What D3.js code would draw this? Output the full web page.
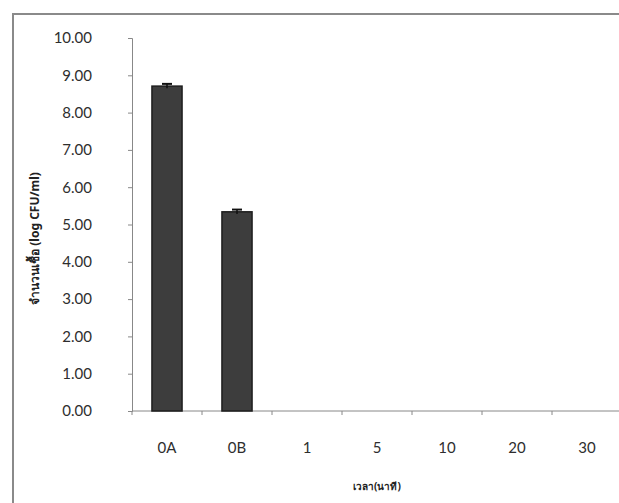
<!DOCTYPE html>
<html>
<head>
<meta charset="utf-8">
<script src="https://cdn.jsdelivr.net/npm/d3@7"></script>
<style>
  html, body { margin: 0; padding: 0; background: #fff; }
  svg { display: block; }
</style>
</head>
<body>
<svg id="chart" width="619" height="503"></svg>
<script>
// Sampling times (minutes) and mean counts with their error
const categories = ["0A", "0B", "1", "5", "10", "20", "30"];
const meanLogCfu = [8.71, 5.34, 0, 0, 0, 0, 0];
const errLogCfu = [0.06, 0.06, 0, 0, 0, 0, 0];
const yTicks = [0, 1, 2, 3, 4, 5, 6, 7, 8, 9, 10];

const yTitle = "จำนวนเชื้อ (log CFU/ml)";
const xTitle = "เวลา(นาที)";

const svg = d3.select("#chart");
const W = 619, H = 503;

// outer chart frame
svg.append("rect")
  .attr("x", 13).attr("y", 14)
  .attr("width", W + 20).attr("height", H + 20)
  .attr("fill", "#fff")
  .attr("stroke", "#8a8a8a").attr("stroke-width", 2);

const plot = { left: 132, right: 622, top: 38, bottom: 411 };

const x = d3.scaleBand()
  .domain(categories)
  .range([plot.left, plot.right])
  .paddingInner(0.57).paddingOuter(0.285);

const y = d3.scaleLinear().domain([0, 10]).range([plot.bottom, plot.top]);

const font = "Lato, 'Open Sans', sans-serif";

// y axis
const yAxis = svg.append("g")
  .attr("transform", `translate(${plot.left},0)`)
  .call(d3.axisLeft(y).tickValues(yTicks).tickFormat(d3.format(".2f")).tickSize(4).tickPadding(36));
yAxis.select(".domain").attr("stroke", "#888");
yAxis.selectAll(".tick line").attr("stroke", "#888");
yAxis.selectAll("text")
  .attr("font-family", font).attr("font-size", 15).attr("fill", "#2e2e2e");

// x axis with ticks on band boundaries
const xg = svg.append("g").attr("transform", `translate(0,${plot.bottom})`);
xg.append("line")
  .attr("x1", plot.left).attr("x2", plot.right)
  .attr("stroke", "#888");
const step = x.step();
const bounds = d3.range(categories.length + 1).map(i => x(categories[0]) - x.paddingOuter() * step + i * step);
xg.selectAll("line.tk").data(bounds).join("line")
  .attr("class", "tk")
  .attr("x1", d => d).attr("x2", d => d)
  .attr("y1", 0).attr("y2", 4)
  .attr("stroke", "#888");
xg.selectAll("text").data(categories).join("text")
  .attr("x", d => x(d) + x.bandwidth() / 2)
  .attr("y", 42)
  .attr("text-anchor", "middle")
  .attr("font-family", font).attr("font-size", 15).attr("fill", "#2e2e2e")
  .text(d => d);

// bars
const data = categories.map((c, i) => ({ c, v: meanLogCfu[i], e: errLogCfu[i] }));
svg.selectAll("rect.bar").data(data.filter(d => d.v > 0)).join("rect")
  .attr("class", "bar")
  .attr("x", d => x(d.c)).attr("width", x.bandwidth())
  .attr("y", d => y(d.v)).attr("height", d => y(0) - y(d.v))
  .attr("fill", "#3d3d3d").attr("stroke", "#1e1e1e").attr("stroke-width", 1.5);

// error bars
const eb = svg.selectAll("g.err").data(data.filter(d => d.v > 0)).join("g").attr("class", "err");
eb.append("line")
  .attr("x1", d => x(d.c) + x.bandwidth() / 2).attr("x2", d => x(d.c) + x.bandwidth() / 2)
  .attr("y1", d => y(d.v + d.e)).attr("y2", d => y(d.v - d.e))
  .attr("stroke", "#111").attr("stroke-width", 1.5);
eb.append("line")
  .attr("x1", d => x(d.c) + x.bandwidth() / 2 - 5).attr("x2", d => x(d.c) + x.bandwidth() / 2 + 5)
  .attr("y1", d => y(d.v + d.e)).attr("y2", d => y(d.v + d.e))
  .attr("stroke", "#111").attr("stroke-width", 2);

// axis titles
svg.append("text")
  .attr("transform", `translate(39,${(plot.top + plot.bottom) / 2 + 14}) rotate(-90)`)
  .attr("text-anchor", "middle")
  .attr("font-family", "'Noto Sans', sans-serif").attr("font-weight", "bold")
  .attr("font-size", 12).attr("fill", "#222")
  .text(yTitle);

svg.append("text")
  .attr("x", 377).attr("y", 490)
  .attr("text-anchor", "middle")
  .attr("font-family", "'Noto Sans', sans-serif").attr("font-weight", "bold")
  .attr("font-size", 10).attr("fill", "#222")
  .text(xTitle);
</script>
</body>
</html>
